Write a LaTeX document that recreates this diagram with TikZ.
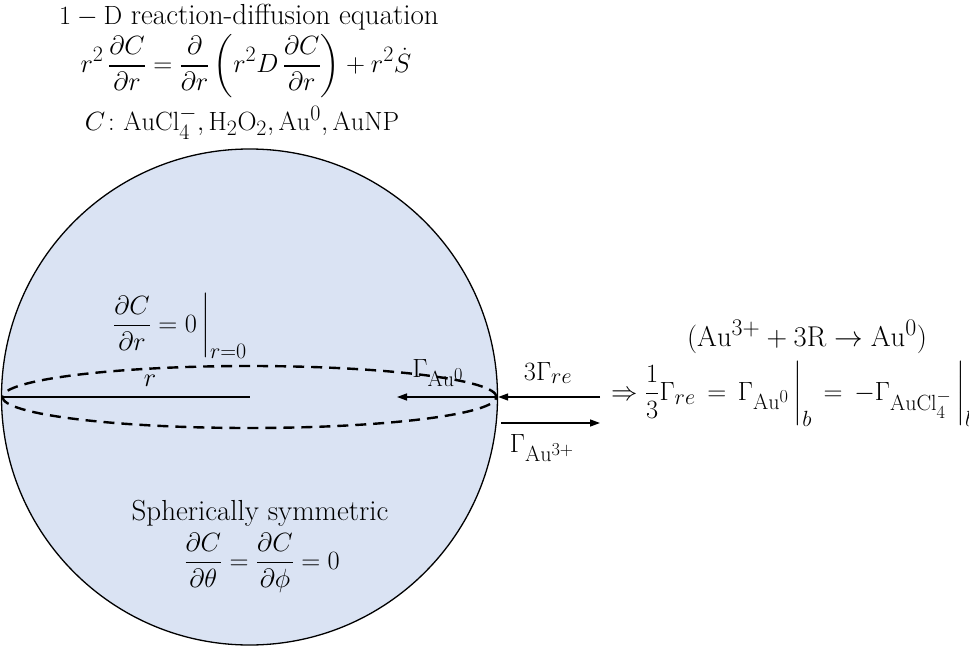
\documentclass[tikz,border=0pt]{standalone}
\usepackage{graphicx}
\usepackage{amsmath}
\usetikzlibrary{arrows.meta}
\definecolor{sphere}{HTML}{DAE3F3}
\newcommand{\mysc}[1]{\scalebox{1.06}{#1}}
\begin{document}
\begin{tikzpicture}[x=1pt,y=-1pt,
  lbl/.style={inner sep=0pt,font=\fontsize{24.88}{30}\selectfont},
  txt/.style={inner sep=0pt,font=\fontsize{29}{33}\selectfont},
  flux/.style={line width=1.4pt,-{Triangle[length=10pt,width=7pt]}}]
\useasboundingbox (0,0) rectangle (969,650);
\clip (0,0) rectangle (969,650);
% sphere
\node[circle,draw,line width=1.3pt,fill=sphere,minimum size=496pt,inner sep=0pt] (sph) at (249.5,397) {};
\draw[line width=2.4pt,dash pattern=on 11pt off 7pt] (sph.center) ellipse [x radius=247pt,y radius=31pt];
\coordinate (ctr) at (sph.center);
\coordinate (lft) at (sph.west);
\coordinate (rgt) at (sph.east);
\draw[line width=1.4pt] (lft) -- (ctr);
% title
\node[txt] (title) at (249,17) {\mysc{$1-\mathrm{D}$} reaction-diffusion equation};
\node[lbl] (eq) at (246,66) {\mysc{$\displaystyle r^2\,\frac{\partial C}{\partial r}=\frac{\partial}{\partial r}\left(r^2D\,\frac{\partial C}{\partial r}\right)+r^2\dot{S}$}};
\node[lbl] (spec) at (242,123) {\mysc{$C\colon \mathrm{AuCl_4^-}, \mathrm{H_2O_2}, \mathrm{Au^0}, \mathrm{AuNP}$}};
% inside
\node[lbl] (bc) at (180,326) {\mysc{$\displaystyle\frac{\partial C}{\partial r}=0\,\bigg|_{r=0}$}};
\node[lbl] (rl) at (150,381) {\mysc{$r$}};
\node[txt] (sym) at (260,513) {Spherically symmetric};
\node[lbl] (symeq) at (262,563) {\mysc{$\displaystyle\frac{\partial C}{\partial \theta}=\frac{\partial C}{\partial \phi}=0$}};
% fluxes
\coordinate (au0end) at (397,397);
\coordinate (reend) at (600,397);
\coordinate (au3s) at (501,423);
\coordinate (au3e) at (600,423);
\draw[flux] (rgt) -- (au0end);
\draw[flux] (reend) -- (rgt);
\draw[flux] (au3s) -- (au3e);
\node[lbl] (gau0) at (438,373) {\mysc{$\Gamma_{\mathrm{Au^0}}$}};
\node[lbl] (gre) at (548,373) {\mysc{$3\Gamma_{re}$}};
\node[lbl] (gau3) at (542,448) {\mysc{$\Gamma_{\mathrm{Au^{3+}}}$}};
\node[lbl,anchor=west] (bnd) at (611,394) {\mysc{$\displaystyle\Rightarrow\frac{1}{3}\Gamma_{re}\,=\,\Gamma_{\mathrm{Au^0}}\,\bigg|_b\,=\,-\Gamma_{\mathrm{AuCl_4^-}}\,\bigg|_b$}};
\node[lbl] (rxn) at (807,337) {\scalebox{1.15}{$(\mathrm{Au^{3+}}+3\mathrm{R}\rightarrow\mathrm{Au^0})$}};
\end{tikzpicture}
\end{document}
